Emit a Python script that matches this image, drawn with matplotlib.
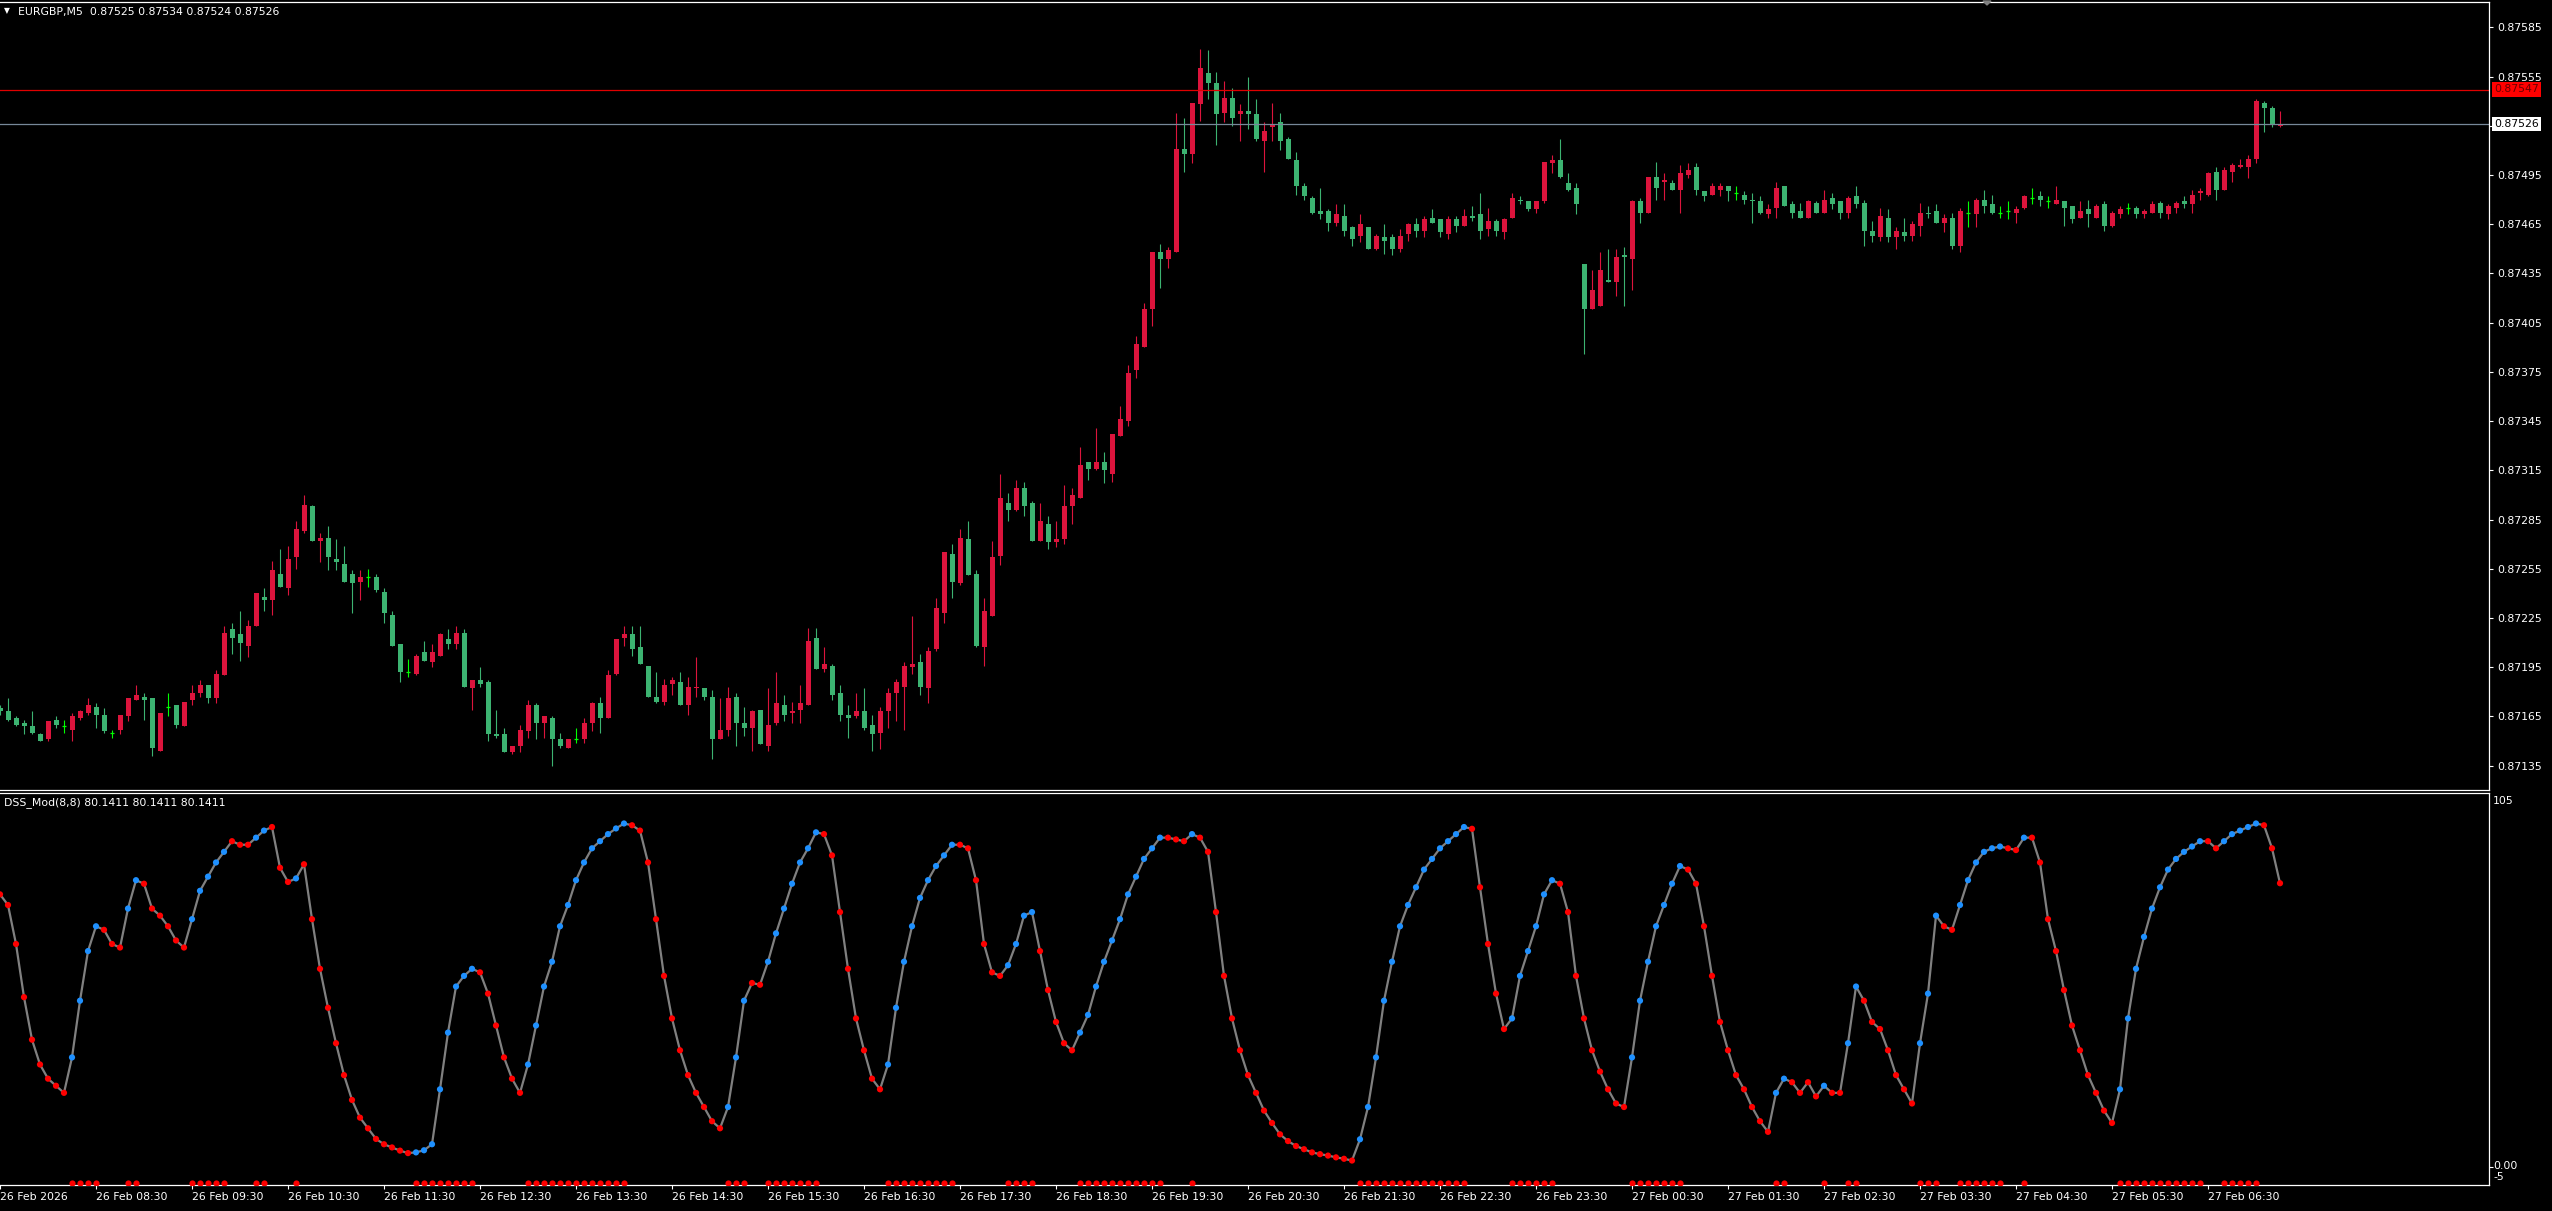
import matplotlib
matplotlib.use('Agg')
import matplotlib.pyplot as plt
from matplotlib.patches import Polygon

# EURGBP M5, prices in points (1e-5). bar 0 = 26 Feb 07:30, one bar = 5 min
opens = [
    87170, 87168, 87164, 87161, 87159, 87154, 87151, 87163, 87159, 87157,
    87164, 87167, 87171, 87166, 87155, 87157, 87165, 87175, 87177, 87176,
    87144, 87171, 87172, 87159, 87175, 87179, 87184, 87176, 87190, 87218,
    87215, 87208, 87220, 87238, 87236, 87252, 87243, 87262, 87278, 87293,
    87272, 87274, 87261, 87258, 87252, 87247, 87250, 87250, 87241, 87227,
    87209, 87192, 87191, 87204, 87198, 87202, 87212, 87209, 87216, 87182,
    87187, 87186, 87154, 87154, 87143, 87147, 87156, 87172, 87161, 87164,
    87151, 87146, 87151, 87151, 87161, 87173, 87164, 87191, 87213, 87215,
    87207, 87196, 87177, 87174, 87185, 87186, 87172, 87182, 87182, 87177,
    87151, 87157, 87177, 87161, 87158, 87169, 87147, 87161, 87172, 87167,
    87169, 87172, 87213, 87194, 87196, 87179, 87166, 87165, 87168, 87160,
    87155, 87168, 87179, 87183, 87195, 87198, 87182, 87206, 87228, 87264,
    87246, 87273, 87252, 87207, 87226, 87263, 87295, 87291, 87304, 87295,
    87272, 87282, 87271, 87273, 87293, 87298, 87320, 87316, 87320, 87313,
    87336, 87345, 87376, 87390, 87413, 87448, 87444, 87448, 87511, 87508,
    87538, 87557, 87551, 87533, 87542, 87532, 87534, 87532, 87516, 87524,
    87527, 87517, 87504, 87488, 87481, 87473, 87473, 87466, 87470, 87463,
    87458, 87463, 87450, 87457, 87457, 87450, 87459, 87465, 87461, 87469,
    87468, 87459, 87468, 87464, 87470, 87471, 87462, 87467, 87460, 87469,
    87480, 87479, 87474, 87479, 87502, 87504, 87490, 87487, 87441, 87413,
    87415, 87431, 87430, 87446, 87444, 87479, 87472, 87494, 87491, 87490,
    87486, 87495, 87500, 87485, 87483, 87486, 87488, 87484, 87483, 87480,
    87479, 87471, 87475, 87488, 87477, 87473, 87469, 87478, 87472, 87481,
    87479, 87472, 87482, 87478, 87461, 87457, 87469, 87457, 87460, 87458,
    87464, 87472, 87473, 87466, 87469, 87452, 87472, 87471, 87480, 87477,
    87472, 87473, 87472, 87475, 87481, 87482, 87479, 87477, 87479, 87476,
    87469, 87474, 87469, 87477, 87464, 87471, 87475, 87475, 87471, 87472,
    87478, 87471, 87475, 87479, 87477, 87484, 87483, 87497, 87486, 87497,
    87500, 87500, 87505, 87539, 87536, 87525,
]
highs = [
    87172, 87176, 87165, 87163, 87168, 87155, 87162, 87165, 87163, 87167,
    87169, 87176, 87173, 87170, 87157, 87166, 87176, 87184, 87179, 87176,
    87167, 87179, 87172, 87174, 87184, 87187, 87184, 87193, 87220, 87222,
    87229, 87224, 87240, 87243, 87260, 87267, 87269, 87284, 87300, 87294,
    87277, 87281, 87273, 87269, 87254, 87254, 87255, 87252, 87243, 87229,
    87209, 87200, 87203, 87211, 87209, 87216, 87218, 87220, 87218, 87187,
    87195, 87187, 87169, 87158, 87147, 87160, 87175, 87173, 87165, 87165,
    87155, 87151, 87158, 87164, 87174, 87177, 87193, 87212, 87220, 87220,
    87220, 87196, 87192, 87188, 87189, 87192, 87189, 87201, 87182, 87181,
    87176, 87183, 87179, 87171, 87169, 87169, 87182, 87192, 87178, 87174,
    87184, 87219, 87219, 87207, 87197, 87184, 87172, 87179, 87182, 87166,
    87171, 87182, 87188, 87198, 87226, 87203, 87207, 87237, 87265, 87270,
    87279, 87284, 87254, 87237, 87272, 87313, 87301, 87309, 87308, 87296,
    87295, 87287, 87284, 87306, 87304, 87329, 87320, 87341, 87326, 87337,
    87354, 87379, 87397, 87417, 87448, 87453, 87451, 87533, 87530, 87539,
    87572, 87571, 87558, 87552, 87548, 87538, 87555, 87541, 87527, 87539,
    87533, 87518, 87509, 87490, 87482, 87487, 87474, 87477, 87477, 87464,
    87471, 87463, 87459, 87465, 87459, 87462, 87466, 87469, 87470, 87474,
    87468, 87470, 87470, 87474, 87476, 87484, 87475, 87468, 87469, 87484,
    87482, 87479, 87479, 87503, 87507, 87517, 87496, 87490, 87441, 87437,
    87448, 87450, 87450, 87451, 87480, 87481, 87494, 87503, 87496, 87492,
    87501, 87502, 87502, 87485, 87490, 87490, 87488, 87488, 87485, 87484,
    87482, 87477, 87491, 87488, 87479, 87478, 87480, 87479, 87486, 87484,
    87479, 87482, 87488, 87480, 87467, 87475, 87474, 87463, 87469, 87467,
    87478, 87476, 87477, 87471, 87472, 87475, 87479, 87481, 87486, 87483,
    87476, 87479, 87476, 87483, 87487, 87485, 87482, 87488, 87479, 87476,
    87479, 87480, 87477, 87479, 87473, 87476, 87478, 87476, 87474, 87479,
    87479, 87477, 87479, 87482, 87486, 87487, 87497, 87500, 87500, 87502,
    87505, 87507, 87541, 87540, 87537, 87534,
]
lows = [
    87166, 87162, 87159, 87154, 87154, 87150, 87150, 87158, 87155, 87150,
    87163, 87166, 87158, 87155, 87152, 87154, 87162, 87175, 87163, 87141,
    87144, 87165, 87158, 87159, 87172, 87177, 87173, 87173, 87190, 87203,
    87199, 87201, 87220, 87229, 87227, 87244, 87239, 87255, 87277, 87272,
    87259, 87254, 87254, 87247, 87228, 87236, 87244, 87241, 87222, 87208,
    87186, 87189, 87190, 87199, 87195, 87202, 87206, 87206, 87183, 87169,
    87183, 87150, 87152, 87143, 87142, 87143, 87152, 87151, 87152, 87135,
    87146, 87146, 87149, 87149, 87156, 87155, 87164, 87190, 87208, 87202,
    87197, 87177, 87173, 87172, 87178, 87172, 87166, 87177, 87175, 87139,
    87151, 87153, 87147, 87153, 87144, 87148, 87144, 87160, 87162, 87161,
    87161, 87172, 87194, 87192, 87175, 87162, 87152, 87164, 87157, 87144,
    87145, 87158, 87162, 87157, 87191, 87178, 87173, 87205, 87222, 87237,
    87245, 87251, 87207, 87196, 87226, 87257, 87284, 87290, 87287, 87272,
    87272, 87267, 87268, 87270, 87282, 87298, 87309, 87315, 87307, 87308,
    87336, 87342, 87371, 87390, 87403, 87426, 87438, 87448, 87497, 87502,
    87528, 87541, 87513, 87527, 87525, 87516, 87523, 87516, 87497, 87516,
    87510, 87505, 87483, 87480, 87471, 87468, 87461, 87464, 87458, 87452,
    87454, 87450, 87449, 87447, 87446, 87448, 87455, 87457, 87457, 87466,
    87457, 87456, 87460, 87464, 87467, 87456, 87458, 87458, 87456, 87469,
    87477, 87473, 87472, 87478, 87496, 87493, 87485, 87471, 87386, 87413,
    87415, 87430, 87421, 87415, 87425, 87466, 87472, 87480, 87480, 87486,
    87472, 87493, 87483, 87479, 87483, 87482, 87479, 87480, 87477, 87466,
    87471, 87469, 87469, 87476, 87469, 87469, 87469, 87472, 87472, 87474,
    87468, 87469, 87475, 87452, 87454, 87455, 87454, 87450, 87455, 87455,
    87458, 87469, 87466, 87460, 87450, 87448, 87463, 87463, 87472, 87471,
    87469, 87468, 87466, 87474, 87477, 87476, 87475, 87477, 87464, 87466,
    87469, 87463, 87469, 87461, 87463, 87469, 87471, 87469, 87469, 87472,
    87469, 87468, 87472, 87475, 87472, 87480, 87482, 87480, 87486, 87491,
    87499, 87493, 87502, 87521, 87524, 87524,
]
closes = [
    87168, 87163, 87160, 87159, 87155, 87150, 87162, 87160, 87159, 87165,
    87168, 87172, 87166, 87156, 87155, 87166, 87176, 87178, 87175, 87146,
    87167, 87171, 87160, 87174, 87179, 87184, 87176, 87191, 87216, 87213,
    87210, 87220, 87240, 87236, 87254, 87244, 87261, 87279, 87294, 87272,
    87274, 87262, 87259, 87247, 87246, 87250, 87250, 87242, 87228, 87208,
    87192, 87192, 87202, 87199, 87204, 87215, 87209, 87216, 87183, 87187,
    87185, 87154, 87153, 87143, 87147, 87157, 87172, 87161, 87165, 87151,
    87147, 87151, 87151, 87161, 87173, 87164, 87190, 87212, 87215, 87206,
    87197, 87177, 87174, 87184, 87187, 87172, 87183, 87183, 87177, 87151,
    87157, 87176, 87161, 87158, 87168, 87148, 87160, 87173, 87166, 87168,
    87173, 87211, 87194, 87197, 87178, 87166, 87164, 87168, 87158, 87154,
    87168, 87179, 87186, 87196, 87197, 87183, 87205, 87231, 87265, 87247,
    87274, 87251, 87208, 87229, 87262, 87298, 87291, 87304, 87293, 87272,
    87284, 87271, 87273, 87293, 87300, 87318, 87316, 87320, 87315, 87337,
    87346, 87374, 87392, 87413, 87448, 87444, 87449, 87511, 87508, 87539,
    87560, 87551, 87532, 87542, 87530, 87534, 87532, 87517, 87522, 87526,
    87516, 87505, 87488, 87482, 87472, 87471, 87466, 87471, 87461, 87456,
    87465, 87450, 87458, 87455, 87450, 87458, 87465, 87461, 87468, 87466,
    87460, 87468, 87464, 87470, 87469, 87461, 87467, 87461, 87468, 87481,
    87479, 87474, 87479, 87503, 87504, 87494, 87486, 87477, 87413, 87425,
    87437, 87430, 87445, 87445, 87479, 87472, 87494, 87487, 87492, 87486,
    87496, 87498, 87486, 87482, 87488, 87488, 87485, 87484, 87480, 87479,
    87472, 87474, 87487, 87476, 87472, 87469, 87479, 87472, 87480, 87477,
    87472, 87481, 87477, 87461, 87458, 87470, 87457, 87461, 87458, 87465,
    87472, 87471, 87466, 87469, 87452, 87473, 87472, 87480, 87476, 87472,
    87472, 87473, 87474, 87482, 87481, 87480, 87479, 87480, 87475, 87468,
    87473, 87471, 87476, 87464, 87472, 87474, 87475, 87471, 87473, 87477,
    87472, 87476, 87478, 87477, 87483, 87485, 87496, 87486, 87498, 87501,
    87501, 87505, 87540, 87536, 87526, 87526,
]

# DSS_Mod(8,8) value per bar
dss = [
    77, 74, 63, 48, 36, 29, 25, 23, 21, 31,
    47, 61, 68, 67, 63, 62, 73, 81, 80, 73,
    71, 68, 64, 62, 70, 78, 82, 86, 89, 92,
    91, 91, 93, 95, 96, 84.5, 80.5, 81.5, 85.5, 70,
    56, 45, 35, 26, 19, 14, 11, 8, 6.5, 5.6,
    4.7, 4.0, 4.2, 4.8, 6.5, 22, 38, 51, 54, 56,
    55, 49, 40, 31, 25, 21, 29, 40, 51, 58,
    68, 74, 81, 86, 90, 92, 94, 95.6, 97, 96.5,
    95, 86, 70, 54, 42, 33, 26, 21, 17, 13,
    11, 17, 31, 47, 52, 51.5, 58, 66, 73, 80,
    86, 90, 94.5, 94, 88, 72, 56, 42, 33, 25,
    22, 29, 45, 58, 68, 76, 81, 85, 88, 91,
    91, 90, 81, 63, 55, 54, 57, 63, 71, 72,
    61, 50, 41, 35, 33, 38, 43, 51, 58, 64,
    70, 77, 82, 87, 90, 93, 93, 92.5, 92, 94,
    93, 89, 72, 54, 42, 33, 26, 21, 16, 12.5,
    9.3, 7.4, 6, 5.1, 4.2, 3.7, 3.3, 2.8, 2.4, 1.9,
    7.9, 17, 31, 47, 58, 68, 74, 79, 84, 87,
    90, 92, 94, 96, 95.5, 79, 63, 49, 39, 42,
    54, 61, 68, 77, 81, 80, 72, 54, 42, 33,
    27, 22, 18, 17, 31, 47, 58, 68, 74, 80,
    85, 84, 80, 68, 54, 41, 33, 26, 22, 17,
    13, 10, 21, 25, 24, 21, 24, 20, 23, 21,
    21, 35, 51, 47, 41, 39, 33, 26, 22, 18,
    35, 49, 71, 68, 67, 74, 81, 86, 89, 90,
    90.5, 90, 89.5, 93, 93, 86, 70, 61, 50, 40,
    33, 26, 21, 16, 12.5, 22, 42, 56, 65, 73,
    79, 84, 87, 89, 90.5, 92, 92, 90, 92, 94,
    95, 96, 97, 96.5, 90, 80.1411,
]

# bars flagged up by the indicator (blue dots, red marks at the bottom)
dss_up_bars = [
    9, 10, 11, 12, 16, 17, 24, 25, 26, 27, 28, 32, 33, 37,
    52, 53, 54, 55, 56, 57, 58, 59,
    66, 67, 68, 69, 70, 71, 72, 73, 74, 75, 76, 77, 78,
    91, 92, 93, 96, 97, 98, 99, 100, 101, 102,
    111, 112, 113, 114, 115, 116, 117, 118, 119,
    126, 127, 128, 129,
    135, 136, 137, 138, 139, 140, 141, 142, 143, 144, 145, 149,
    170, 171, 172, 173, 174, 175, 176, 177, 178, 179, 180, 181, 182, 183,
    189, 190, 191, 192, 193, 194,
    204, 205, 206, 207, 208, 209, 210,
    222, 223, 228, 231, 232, 240, 241, 242,
    245, 246, 247, 248, 249, 250, 253,
    265, 266, 267, 268, 269, 270, 271, 272, 273, 274, 275,
    278, 279, 280, 281, 282,
]

time_label_bars = [0, 12, 24, 36, 48, 60, 72, 84, 96, 108, 120, 132, 144,
                   156, 168, 180, 192, 204, 216, 228, 240, 252, 264, 276]
time_labels = [
    '26 Feb 2026', '26 Feb 08:30', '26 Feb 09:30', '26 Feb 10:30',
    '26 Feb 11:30', '26 Feb 12:30', '26 Feb 13:30', '26 Feb 14:30',
    '26 Feb 15:30', '26 Feb 16:30', '26 Feb 17:30', '26 Feb 18:30',
    '26 Feb 19:30', '26 Feb 20:30', '26 Feb 21:30', '26 Feb 22:30',
    '26 Feb 23:30', '27 Feb 00:30', '27 Feb 01:30', '27 Feb 02:30',
    '27 Feb 03:30', '27 Feb 04:30', '27 Feb 05:30', '27 Feb 06:30',
]
price_ticks = [0.87135, 0.87165, 0.87195, 0.87225, 0.87255, 0.87285, 0.87315,
               0.87345, 0.87375, 0.87405, 0.87435, 0.87465, 0.87495, 0.87525,
               0.87555, 0.87585]
ask_line = 0.87547
bid_line = 0.87526

W, H = 2552, 1211
BULL = '#DC143C'
BEAR = '#3CB371'
DOJI = '#00FF00'
FS = 7.8

plt.rcParams['font.family'] = ['DejaVu Sans']


def fx(px):
    return px / W


def fy(py):
    return 1 - py / H


fig = plt.figure(figsize=(W / 100, H / 100), dpi=100, facecolor='black')
ax1 = fig.add_axes([0, fy(790), fx(2489), (790 - 2) / H])
ax2 = fig.add_axes([0, fy(1185), fx(2489), (1185 - 793) / H])

for ax in (ax1, ax2):
    ax.set_facecolor('black')
    ax.set_xlim(0, 2489 / 8)
    for side in ('top', 'right', 'bottom'):
        ax.spines[side].set_color('white')
        ax.spines[side].set_linewidth(0.9)
    ax.spines['left'].set_visible(False)

# candles
for i in range(len(closes)):
    o, h, l, c = opens[i] / 1e5, highs[i] / 1e5, lows[i] / 1e5, closes[i] / 1e5
    if c > o:
        col = BULL
    elif c < o:
        col = BEAR
    else:
        col = DOJI
    ax1.vlines(i, l, h, color=col, lw=0.8)
    if c == o:
        ax1.hlines(o, i - 0.31, i + 0.31, color=col, lw=0.9)
    else:
        ax1.bar(i, abs(c - o), bottom=min(o, c), width=0.625, color=col,
                lw=0, antialiased=False)

ax1.axhline(ask_line, color='#E00000', lw=0.9)
ax1.axhline(bid_line, color='#778899', lw=0.9)
ax1.set_ylim(0.8712013, 0.8760042)
ax1.yaxis.tick_right()
ax1.set_yticks(price_ticks)
ax1.set_yticklabels([f'{p:.5f}' for p in price_ticks])
ax1.tick_params(axis='y', colors='white', length=3, width=0.8, labelsize=FS, pad=3)
ax1.set_xticks([])

# indicator
xs = list(range(len(dss)))
dot_cols = ['#1E90FF' if i in dss_up_bars else '#FF0000' for i in xs]
ax2.plot(xs, dss, color='#808080', lw=1.6, zorder=2)
ax2.scatter(xs, dss, c=dot_cols, s=20, linewidths=0, zorder=3)
ax2.scatter(dss_up_bars, [-4.3] * len(dss_up_bars), c='#FF0000', s=20,
            linewidths=0, zorder=3)
ax2.set_ylim(-5, 105.6)
ax2.yaxis.tick_right()
ax2.set_yticks([0])
ax2.set_yticklabels([''])
ax2.tick_params(axis='y', colors='white', length=3, width=0.8)
ax2.set_xticks(time_label_bars)
ax2.set_xticklabels(time_labels, ha='left')
ax2.tick_params(axis='x', colors='white', length=3, width=0.8, labelsize=FS, pad=2)

# texts
fig.text(fx(4), fy(11), '\u25bc', color='white', fontsize=5.5, va='center')
fig.text(fx(18), fy(11.7), 'EURGBP,M5  0.87525 0.87534 0.87524 0.87526',
         color='white', fontsize=FS, va='center')
fig.text(fx(4), fy(803), 'DSS_Mod(8,8) 80.1411 80.1411 80.1411',
         color='white', fontsize=FS, va='center')
fig.text(fx(2493), fy(801), '105', color='white', fontsize=FS, va='center')
fig.text(fx(2493), fy(1166), '0.00', color='white', fontsize=FS, va='center')
fig.text(fx(2493), fy(1177), '-5', color='white', fontsize=FS, va='center')
fig.text(fx(2494), fy(89.5), f'{ask_line:.5f}', color='#6A0000', fontsize=FS,
         va='center', bbox=dict(boxstyle='square,pad=0.2', fc='#FF0000', ec='none'))
fig.text(fx(2494), fy(124.3), f'{bid_line:.5f}', color='black', fontsize=FS,
         va='center', bbox=dict(boxstyle='square,pad=0.2', fc='white', ec='none'))

fig.add_artist(Polygon([(fx(1983), fy(1)), (fx(1991), fy(1)), (fx(1987), fy(5))],
                       closed=True, transform=fig.transFigure, color='#808080'))

fig.savefig('out.png', dpi=100, facecolor='black')
